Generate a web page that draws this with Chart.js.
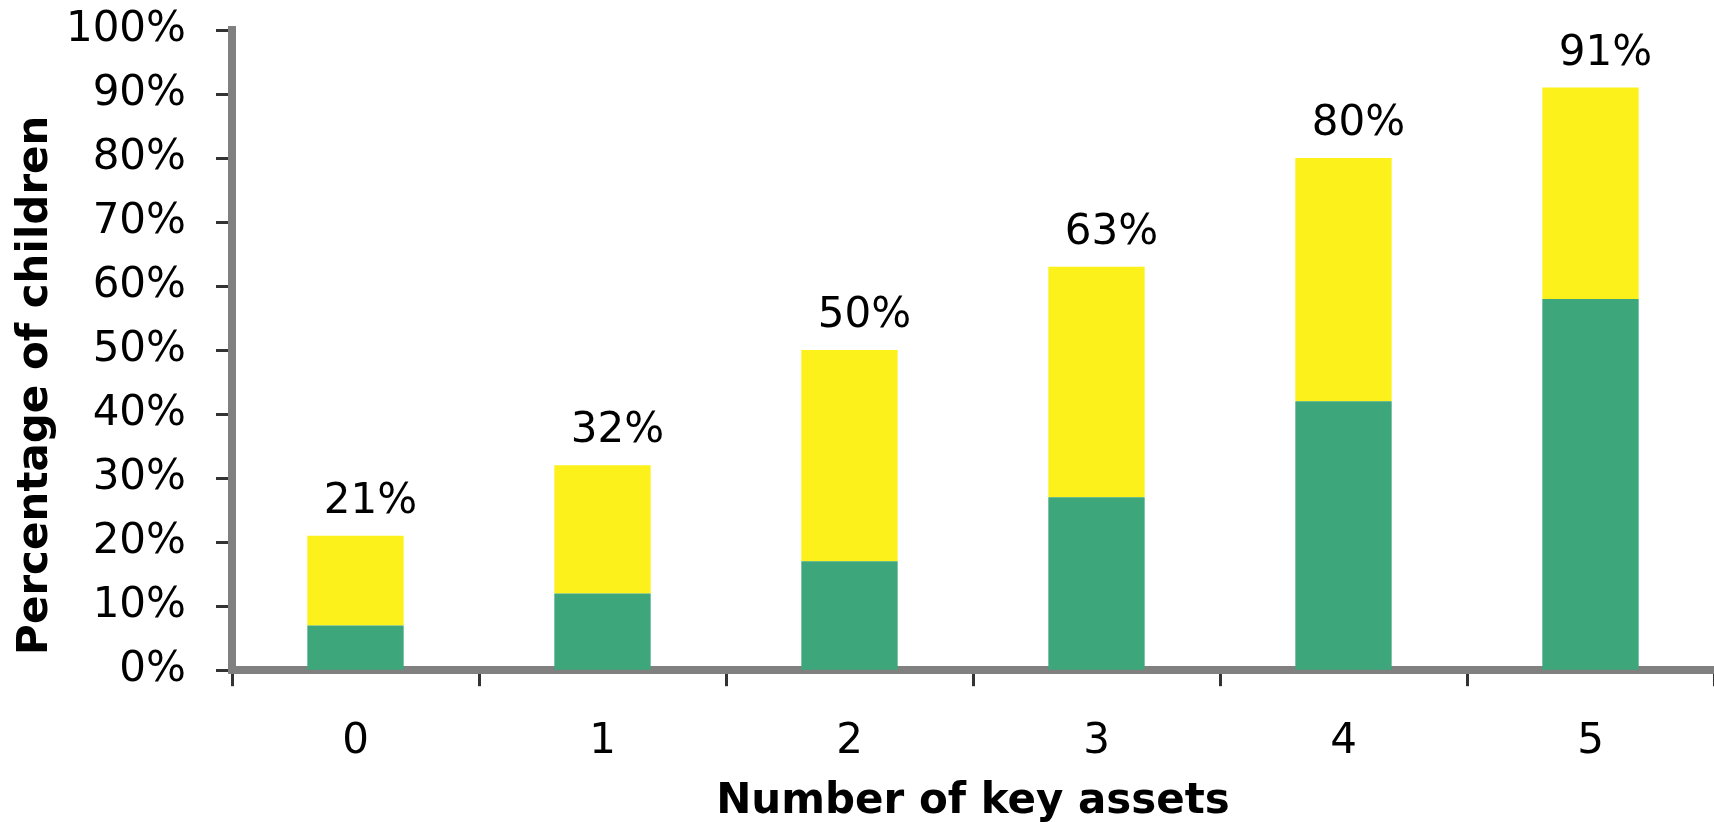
<!DOCTYPE html>
<html>
<head>
<meta charset="utf-8">
<title>Key assets</title>
<script src="https://cdn.jsdelivr.net/npm/chart.js@4/dist/chart.umd.min.js"></script>
<style>
  html, body { margin: 0; padding: 0; background: #fff; overflow: hidden; }
  #wrap { width: 1714px; height: 822px; position: relative; }
</style>
</head>
<body>
<div id="wrap"><canvas id="assetsChart"></canvas></div>
<script>
// values
const assetCounts = ['0', '1', '2', '3', '4', '5'];
const greenShare = [7, 12, 17, 27, 42, 58];
const yellowShare = [14, 20, 33, 36, 38, 33];
const totalShare = [21, 32, 50, 63, 80, 91];
const yTicks = [0, 10, 20, 30, 40, 50, 60, 70, 80, 90, 100];

const FONT = 'DejaVu Sans';

// total labels above each stack
const totalLabels = {
    id: 'totalLabels',
    afterDatasetsDraw(chart) {
        const ctx = chart.ctx;
        const meta = chart.getDatasetMeta(1);
        ctx.save();
        ctx.font = '42px "' + FONT + '"';
        ctx.fillStyle = '#000';
        ctx.textAlign = 'center';
        ctx.textBaseline = 'middle';
        meta.data.forEach((bar, i) => {
            ctx.fillText(totalShare[i] + '%', bar.x + 15, bar.y - 34);
        });
        ctx.restore();
    }
};

// y title sits a bit below the middle of the axis in the original
const yTitle = {
    id: 'yTitle',
    afterDraw(chart) {
        const ctx = chart.ctx;
        const area = chart.chartArea;
        ctx.save();
        ctx.translate(chart.scales.y.left + 36, area.bottom - 285);
        ctx.rotate(-Math.PI / 2);
        ctx.font = 'bold 42px "' + FONT + '"';
        ctx.fillStyle = '#000';
        ctx.textAlign = 'center';
        ctx.textBaseline = 'middle';
        ctx.fillText('Percentage of children', 0, 0);
        ctx.restore();
    }
};

const ctx = document.getElementById('assetsChart').getContext('2d');
new Chart(ctx, {
    type: 'bar',
    data: {
        labels: assetCounts,
        datasets: [{
            label: 'Lower part',
            data: greenShare,
            backgroundColor: '#3DA77B'
        }, {
            label: 'Upper part',
            data: yellowShare,
            backgroundColor: '#FCF11A'
        }]
    },
    options: {
        responsive: true,
        maintainAspectRatio: false,
        animation: false,
        layout: {
            padding: { top: 30, right: 0, bottom: 0, left: 0 }
        },
        datasets: {
            bar: {
                categoryPercentage: 1,
                barPercentage: 0.39
            }
        },
        plugins: {
            legend: { display: false },
            tooltip: { enabled: false }
        },
        scales: {
            x: {
                stacked: true,
                z: 1,
                grid: {
                    offset: true,
                    drawOnChartArea: false,
                    tickLength: 16,
                    tickWidth: 3,
                    tickColor: '#333'
                },
                border: { color: '#808080', width: 8 },
                ticks: {
                    color: '#000',
                    padding: 31,
                    font: { family: FONT, size: 42 }
                },
                title: {
                    display: true,
                    text: 'Number of key assets',
                    color: '#000',
                    padding: { top: -22, bottom: -5 },
                    font: { family: FONT, size: 42, weight: 'bold' }
                }
            },
            y: {
                stacked: true,
                z: 1,
                min: 0,
                max: 100,
                afterBuildTicks(scale) {
                    scale.ticks = yTicks.map(v => ({ value: v }));
                },
                afterFit(scale) {
                    scale.width = 232;
                    scale.paddingTop = 0;
                    scale.paddingBottom = 0;
                },
                grid: {
                    drawOnChartArea: false,
                    tickLength: 16,
                    tickWidth: 3,
                    tickColor: '#333'
                },
                border: { color: '#808080', width: 8 },
                ticks: {
                    color: '#000',
                    padding: 30,
                    font: { family: FONT, size: 42 },
                    callback: v => v + '%'
                },
                title: { display: false }
            }
        }
    },
    plugins: [totalLabels, yTitle]
});
</script>
</body>
</html>
